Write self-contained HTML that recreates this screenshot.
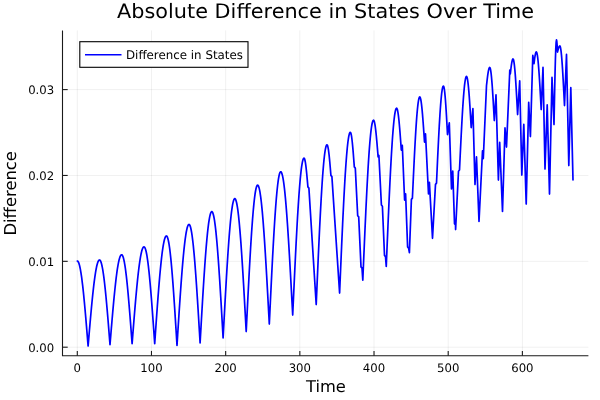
<!DOCTYPE html>
<html><head><meta charset="utf-8">
<style>
html,body{margin:0;padding:0;background:#fff;}
body{width:600px;height:400px;overflow:hidden;}
svg{display:block;will-change:transform;}
text{font-family:"DejaVu Sans","Liberation Sans",sans-serif;fill:#000;text-rendering:geometricPrecision;}
.grid{stroke:#000;stroke-opacity:0.1;stroke-width:0.6;}
.ax{stroke:#1a1a1a;stroke-width:1.1;}
.tl{font-size:11.7px;}
</style></head>
<body>
<svg width="600" height="400" viewBox="0 0 600 400">
<rect x="0" y="0" width="600" height="400" fill="#fff"/>
<line x1="77.30" y1="30.40" x2="77.30" y2="355.80" class="grid"/>
<line x1="151.48" y1="30.40" x2="151.48" y2="355.80" class="grid"/>
<line x1="225.66" y1="30.40" x2="225.66" y2="355.80" class="grid"/>
<line x1="299.84" y1="30.40" x2="299.84" y2="355.80" class="grid"/>
<line x1="374.02" y1="30.40" x2="374.02" y2="355.80" class="grid"/>
<line x1="448.20" y1="30.40" x2="448.20" y2="355.80" class="grid"/>
<line x1="522.38" y1="30.40" x2="522.38" y2="355.80" class="grid"/>
<line x1="62.50" y1="347.20" x2="588.40" y2="347.20" class="grid"/>
<line x1="62.50" y1="261.33" x2="588.40" y2="261.33" class="grid"/>
<line x1="62.50" y1="175.46" x2="588.40" y2="175.46" class="grid"/>
<line x1="62.50" y1="89.59" x2="588.40" y2="89.59" class="grid"/>
<path d="M62.50,30.40 V355.80 H588.40" fill="none" class="ax" stroke-linejoin="miter"/>
<line x1="77.30" y1="355.80" x2="77.30" y2="350.90" class="ax"/>
<line x1="151.48" y1="355.80" x2="151.48" y2="350.90" class="ax"/>
<line x1="225.66" y1="355.80" x2="225.66" y2="350.90" class="ax"/>
<line x1="299.84" y1="355.80" x2="299.84" y2="350.90" class="ax"/>
<line x1="374.02" y1="355.80" x2="374.02" y2="350.90" class="ax"/>
<line x1="448.20" y1="355.80" x2="448.20" y2="350.90" class="ax"/>
<line x1="522.38" y1="355.80" x2="522.38" y2="350.90" class="ax"/>
<line x1="62.50" y1="347.20" x2="67.70" y2="347.20" class="ax"/>
<line x1="62.50" y1="261.33" x2="67.70" y2="261.33" class="ax"/>
<line x1="62.50" y1="175.46" x2="67.70" y2="175.46" class="ax"/>
<line x1="62.50" y1="89.59" x2="67.70" y2="89.59" class="ax"/>
<text x="77.30" y="371.6" class="tl" text-anchor="middle">0</text>
<text x="151.48" y="371.6" class="tl" text-anchor="middle">100</text>
<text x="225.66" y="371.6" class="tl" text-anchor="middle">200</text>
<text x="299.84" y="371.6" class="tl" text-anchor="middle">300</text>
<text x="374.02" y="371.6" class="tl" text-anchor="middle">400</text>
<text x="448.20" y="371.6" class="tl" text-anchor="middle">500</text>
<text x="522.38" y="371.6" class="tl" text-anchor="middle">600</text>
<text x="54.2" y="351.50" class="tl" text-anchor="end">0.00</text>
<text x="54.2" y="265.63" class="tl" text-anchor="end">0.01</text>
<text x="54.2" y="179.76" class="tl" text-anchor="end">0.02</text>
<text x="54.2" y="93.89" class="tl" text-anchor="end">0.03</text>
<path d="M77.30,261.00 77.64,261.10 77.97,261.41 78.31,261.92 78.65,262.63 78.99,263.55 79.33,264.66 79.66,265.97 80.00,267.47 80.34,269.17 80.67,271.04 81.01,273.10 81.35,275.33 81.69,277.74 82.02,280.31 82.36,283.03 82.70,285.91 83.04,288.93 83.38,292.09 83.71,295.39 84.05,298.80 84.39,302.33 84.72,305.96 85.06,309.69 85.40,313.50 85.74,317.40 86.07,321.36 86.41,325.38 86.75,329.46 87.09,333.57 87.42,337.71 87.76,341.88 88.10,346.05 88.44,342.07 88.77,338.11 89.11,334.15 89.44,330.23 89.78,326.34 90.11,322.49 90.45,318.69 90.78,314.95 91.12,311.27 91.45,307.67 91.79,304.15 92.12,300.72 92.46,297.39 92.79,294.16 93.13,291.05 93.46,288.04 93.80,285.17 94.14,282.42 94.47,279.81 94.81,277.34 95.14,275.02 95.48,272.85 95.81,270.83 96.15,268.98 96.48,267.29 96.82,265.76 97.15,264.41 97.49,263.24 97.82,262.24 98.16,261.42 98.49,260.78 98.83,260.32 99.16,260.04 99.50,259.95 99.84,260.06 100.18,260.38 100.52,260.93 100.85,261.68 101.19,262.65 101.53,263.83 101.87,265.22 102.21,266.81 102.55,268.61 102.89,270.59 103.23,272.77 103.56,275.13 103.90,277.67 104.24,280.38 104.58,283.26 104.92,286.29 105.26,289.48 105.60,292.80 105.94,296.26 106.27,299.85 106.61,303.54 106.95,307.35 107.29,311.25 107.63,315.23 107.97,319.29 108.31,323.42 108.65,327.60 108.98,331.82 109.32,336.08 109.66,340.36 110.00,344.65 110.34,340.50 110.68,336.36 111.02,332.23 111.36,328.13 111.71,324.07 112.05,320.05 112.39,316.08 112.73,312.17 113.07,308.34 113.41,304.58 113.75,300.90 114.09,297.32 114.44,293.84 114.78,290.47 115.12,287.22 115.46,284.08 115.80,281.08 116.14,278.21 116.48,275.49 116.82,272.91 117.16,270.48 117.51,268.22 117.85,266.11 118.19,264.17 118.53,262.41 118.87,260.82 119.21,259.41 119.55,258.18 119.89,257.14 120.24,256.28 120.58,255.61 120.92,255.13 121.26,254.85 121.60,254.75 121.94,254.86 122.28,255.21 122.62,255.78 122.95,256.57 123.29,257.59 123.63,258.83 123.97,260.28 124.31,261.95 124.65,263.84 124.99,265.92 125.33,268.21 125.66,270.68 126.00,273.35 126.34,276.20 126.68,279.22 127.02,282.40 127.36,285.74 127.70,289.23 128.04,292.86 128.37,296.63 128.71,300.51 129.05,304.50 129.39,308.59 129.73,312.77 130.07,317.04 130.41,321.37 130.75,325.75 131.08,330.19 131.42,334.66 131.76,339.15 132.10,343.65 132.44,339.31 132.78,334.97 133.12,330.66 133.46,326.37 133.80,322.11 134.14,317.90 134.48,313.74 134.82,309.64 135.16,305.61 135.50,301.65 135.84,297.78 136.18,294.00 136.52,290.32 136.86,286.75 137.20,283.30 137.54,279.96 137.88,276.76 138.22,273.68 138.56,270.75 138.90,267.97 139.24,265.34 139.58,262.86 139.92,260.55 140.26,258.41 140.60,256.44 140.94,254.64 141.28,253.02 141.62,251.59 141.96,250.34 142.30,249.28 142.64,248.41 142.98,247.73 143.32,247.24 143.66,246.95 144.00,246.85 144.33,246.97 144.67,247.32 145.00,247.90 145.34,248.71 145.67,249.75 146.01,251.02 146.34,252.51 146.68,254.22 147.01,256.14 147.34,258.28 147.68,260.62 148.01,263.16 148.35,265.90 148.68,268.82 149.02,271.93 149.35,275.20 149.68,278.64 150.02,282.24 150.35,285.99 150.69,289.87 151.02,293.88 151.36,298.02 151.69,302.26 152.02,306.61 152.36,311.04 152.69,315.55 153.03,320.13 153.36,324.77 153.70,329.45 154.03,334.16 154.37,338.90 154.70,343.65 155.03,338.82 155.37,334.00 155.70,329.19 156.04,324.42 156.37,319.68 156.71,315.00 157.04,310.37 157.37,305.81 157.71,301.32 158.04,296.92 158.38,292.61 158.71,288.41 159.05,284.32 159.38,280.35 159.71,276.50 160.05,272.79 160.38,269.22 160.72,265.80 161.05,262.54 161.39,259.45 161.72,256.52 162.05,253.77 162.39,251.20 162.72,248.81 163.06,246.62 163.39,244.62 163.73,242.82 164.06,241.22 164.39,239.83 164.73,238.65 165.06,237.68 165.40,236.92 165.73,236.38 166.07,236.06 166.40,235.95 166.74,236.09 167.08,236.51 167.43,237.21 167.77,238.19 168.11,239.44 168.45,240.97 168.79,242.76 169.14,244.82 169.48,247.13 169.82,249.70 170.16,252.51 170.50,255.56 170.85,258.84 171.19,262.34 171.53,266.06 171.87,269.98 172.21,274.09 172.55,278.39 172.90,282.85 173.24,287.48 173.58,292.26 173.92,297.17 174.26,302.21 174.61,307.35 174.95,312.60 175.29,317.93 175.63,323.33 175.97,328.78 176.32,334.28 176.66,339.81 177.00,345.35 177.33,340.08 177.67,334.81 178.00,329.57 178.33,324.36 178.67,319.18 179.00,314.06 179.33,308.99 179.67,304.00 180.00,299.08 180.33,294.26 180.67,289.52 181.00,284.90 181.33,280.39 181.67,276.00 182.00,271.75 182.33,267.64 182.67,263.67 183.00,259.86 183.33,256.21 183.67,252.74 184.00,249.43 184.33,246.31 184.67,243.38 185.00,240.65 185.33,238.11 185.67,235.78 186.00,233.65 186.33,231.74 186.67,230.05 187.00,228.57 187.33,227.32 187.67,226.29 188.00,225.48 188.33,224.91 188.67,224.57 189.00,224.45 189.34,224.58 189.67,224.99 190.01,225.66 190.35,226.59 190.68,227.79 191.02,229.25 191.35,230.97 191.69,232.94 192.03,235.16 192.36,237.62 192.70,240.33 193.04,243.26 193.37,246.42 193.71,249.80 194.05,253.39 194.38,257.19 194.72,261.18 195.05,265.35 195.39,269.70 195.73,274.21 196.06,278.88 196.40,283.70 196.74,288.65 197.07,293.72 197.41,298.91 197.75,304.19 198.08,309.56 198.42,315.01 198.75,320.52 199.09,326.09 199.43,331.69 199.76,337.31 200.10,342.95 200.43,337.06 200.77,331.18 201.10,325.33 201.44,319.51 201.77,313.73 202.11,308.02 202.44,302.38 202.77,296.81 203.11,291.35 203.44,285.98 203.78,280.73 204.11,275.61 204.45,270.62 204.78,265.77 205.11,261.09 205.45,256.56 205.78,252.21 206.12,248.05 206.45,244.07 206.79,240.30 207.12,236.73 207.45,233.37 207.79,230.24 208.12,227.33 208.46,224.65 208.79,222.22 209.13,220.02 209.46,218.08 209.79,216.38 210.13,214.94 210.46,213.76 210.80,212.84 211.13,212.18 211.47,211.78 211.80,211.65 212.14,211.79 212.48,212.22 212.83,212.93 213.17,213.93 213.51,215.21 213.85,216.76 214.20,218.59 214.54,220.69 214.88,223.05 215.22,225.68 215.57,228.56 215.91,231.68 216.25,235.05 216.59,238.65 216.94,242.47 217.28,246.51 217.62,250.76 217.96,255.21 218.31,259.84 218.65,264.65 218.99,269.62 219.33,274.75 219.68,280.02 220.02,285.42 220.36,290.95 220.70,296.57 221.05,302.30 221.39,308.10 221.73,313.97 222.07,319.89 222.42,325.85 222.76,331.85 223.10,337.85 223.43,331.60 223.77,325.37 224.10,319.16 224.44,312.99 224.77,306.88 225.11,300.82 225.44,294.83 225.77,288.94 226.11,283.14 226.44,277.45 226.78,271.89 227.11,266.45 227.45,261.17 227.78,256.03 228.11,251.06 228.45,246.26 228.78,241.65 229.12,237.24 229.45,233.02 229.79,229.02 230.12,225.23 230.45,221.68 230.79,218.35 231.12,215.27 231.46,212.44 231.79,209.85 232.13,207.53 232.46,205.46 232.79,203.67 233.13,202.14 233.46,200.89 233.80,199.91 234.13,199.21 234.47,198.79 234.80,198.65 235.14,198.79 235.47,199.22 235.81,199.92 236.14,200.91 236.48,202.18 236.81,203.72 237.15,205.54 237.48,207.62 237.82,209.97 238.15,212.58 238.49,215.45 238.82,218.56 239.16,221.91 239.49,225.49 239.83,229.31 240.16,233.34 240.50,237.58 240.84,242.02 241.17,246.65 241.51,251.46 241.84,256.44 242.18,261.59 242.51,266.88 242.85,272.31 243.18,277.87 243.52,283.54 243.85,289.32 244.19,295.18 244.52,301.12 244.86,307.13 245.19,313.19 245.53,319.29 245.86,325.41 246.20,331.55 246.54,324.79 246.87,318.04 247.21,311.32 247.54,304.65 247.88,298.03 248.21,291.49 248.55,285.03 248.88,278.66 249.22,272.42 249.55,266.29 249.89,260.31 250.22,254.48 250.56,248.81 250.89,243.32 251.23,238.02 251.56,232.92 251.90,228.03 252.24,223.36 252.57,218.92 252.91,214.72 253.24,210.77 253.58,207.08 253.91,203.65 254.25,200.50 254.58,197.62 254.92,195.04 255.25,192.74 255.59,190.74 255.92,189.04 256.26,187.64 256.59,186.55 256.93,185.77 257.26,185.31 257.60,185.15 257.93,185.29 258.27,185.71 258.60,186.41 258.94,187.38 259.27,188.63 259.61,190.16 259.94,191.95 260.27,194.01 260.61,196.33 260.94,198.91 261.28,201.74 261.61,204.81 261.95,208.13 262.28,211.68 262.61,215.45 262.95,219.45 263.28,223.65 263.62,228.06 263.95,232.66 264.29,237.45 264.62,242.41 264.95,247.53 265.29,252.81 265.62,258.23 265.96,263.78 266.29,269.46 266.63,275.24 266.96,281.13 267.29,287.10 267.63,293.14 267.96,299.25 268.30,305.40 268.63,311.60 268.97,317.82 269.30,324.05 269.64,317.02 269.97,310.00 270.31,303.01 270.64,296.06 270.98,289.18 271.31,282.37 271.65,275.65 271.98,269.03 272.32,262.53 272.65,256.16 272.99,249.94 273.32,243.87 273.66,237.98 273.99,232.27 274.33,226.75 274.66,221.45 275.00,216.36 275.34,211.50 275.67,206.88 276.01,202.51 276.34,198.40 276.68,194.56 277.01,191.00 277.35,187.72 277.68,184.73 278.02,182.03 278.35,179.65 278.69,177.56 279.02,175.80 279.36,174.34 279.69,173.21 280.03,172.40 280.36,171.91 280.70,171.75 281.03,171.89 281.37,172.30 281.70,172.98 282.03,173.93 282.37,175.15 282.70,176.63 283.03,178.38 283.37,180.39 283.70,182.66 284.03,185.18 284.37,187.94 284.70,190.95 285.03,194.19 285.37,197.67 285.70,201.36 286.03,205.28 286.37,209.40 286.70,213.72 287.03,218.24 287.37,222.94 287.70,227.81 288.03,232.86 288.37,238.05 288.70,243.40 289.03,248.88 289.37,254.49 289.70,260.21 290.03,266.04 290.37,271.96 290.70,277.96 291.03,284.03 291.37,290.17 291.70,296.35 292.03,302.56 292.37,308.80 292.70,315.05 293.04,307.58 293.38,300.14 293.73,292.72 294.07,285.36 294.41,278.06 294.75,270.85 295.10,263.73 295.44,256.74 295.78,249.87 296.12,243.15 296.47,236.60 296.81,230.22 297.15,224.04 297.49,218.06 297.84,212.30 298.18,206.78 298.52,201.50 298.86,196.47 299.21,191.72 299.55,187.24 299.89,183.06 300.23,179.17 300.58,175.59 300.92,172.33 301.26,169.39 301.60,166.78 301.95,164.51 302.29,162.57 302.63,160.99 302.97,159.75 303.32,158.86 303.66,158.33 304.00,158.15 304.35,158.44 304.71,159.31 305.06,160.75 305.42,162.71 305.77,165.17 306.13,168.07 306.48,171.36 306.84,174.96 307.19,178.80 307.55,182.81 307.90,186.90 308.90,188.10 316.20,304.55 316.54,296.71 316.88,288.90 317.21,281.12 317.55,273.39 317.89,265.75 318.22,258.19 318.56,250.75 318.90,243.44 319.24,236.27 319.57,229.27 319.91,222.45 320.25,215.83 320.59,209.42 320.93,203.24 321.26,197.30 321.60,191.63 321.94,186.22 322.27,181.10 322.61,176.28 322.95,171.76 323.29,167.57 323.62,163.71 323.96,160.18 324.30,157.01 324.64,154.19 324.98,151.73 325.31,149.64 325.65,147.92 325.99,146.58 326.32,145.62 326.66,145.04 327.00,144.85 327.35,145.16 327.71,146.09 328.06,147.61 328.42,149.70 328.77,152.31 329.13,155.39 329.48,158.88 329.84,162.71 330.19,166.79 330.55,171.05 330.90,175.40 331.90,176.60 339.60,293.05 339.93,285.16 340.27,277.30 340.60,269.47 340.94,261.70 341.27,254.00 341.61,246.40 341.94,238.91 342.28,231.55 342.61,224.34 342.94,217.30 343.28,210.43 343.61,203.77 343.95,197.32 344.28,191.10 344.62,185.13 344.95,179.42 345.28,173.98 345.62,168.83 345.95,163.97 346.29,159.43 346.62,155.21 346.96,151.33 347.29,147.78 347.62,144.58 347.96,141.74 348.29,139.27 348.63,137.17 348.96,135.44 349.30,134.09 349.63,133.12 349.97,132.54 350.30,132.35 350.63,132.65 350.97,133.53 351.30,134.98 351.63,136.98 351.97,139.49 352.30,142.47 352.63,145.87 352.97,149.62 353.30,153.68 353.63,157.96 353.97,162.39 354.30,166.90 355.30,168.10 357.70,215.70 358.70,216.90 361.00,266.90 362.00,268.10 362.80,280.15 363.13,272.30 363.47,264.47 363.80,256.68 364.14,248.95 364.47,241.29 364.81,233.72 365.14,226.26 365.48,218.94 365.81,211.76 366.14,204.75 366.48,197.92 366.81,191.29 367.15,184.87 367.48,178.68 367.82,172.73 368.15,167.05 368.48,161.63 368.82,156.51 369.15,151.68 369.49,147.16 369.82,142.96 370.16,139.09 370.49,135.56 370.82,132.38 371.16,129.55 371.49,127.09 371.83,124.99 372.16,123.27 372.50,121.93 372.83,120.97 373.17,120.39 373.50,120.20 373.85,120.47 374.21,121.26 374.56,122.58 374.92,124.40 375.27,126.69 375.62,129.42 375.98,132.55 376.33,136.03 376.68,139.82 377.04,143.85 377.39,148.08 377.75,152.43 378.10,156.85 378.90,155.45 381.40,205.00 382.40,206.20 384.50,255.40 385.50,256.60 386.25,266.45 386.58,258.43 386.92,250.44 387.25,242.49 387.59,234.59 387.92,226.78 388.25,219.08 388.59,211.49 388.92,204.04 389.25,196.76 389.59,189.65 389.92,182.74 390.26,176.05 390.59,169.58 390.92,163.37 391.26,157.42 391.59,151.75 391.93,146.38 392.26,141.31 392.59,136.56 392.93,132.15 393.26,128.08 393.60,124.37 393.93,121.02 394.26,118.05 394.60,115.46 394.93,113.25 395.26,111.44 395.60,110.02 395.93,109.01 396.27,108.40 396.60,108.20 396.94,108.46 397.27,109.25 397.61,110.55 397.94,112.34 398.28,114.61 398.61,117.33 398.95,120.46 399.29,123.96 399.62,127.78 399.96,131.89 400.29,136.23 400.63,140.74 400.96,145.36 401.30,150.05 402.30,145.45 404.60,200.05 405.60,193.95 407.60,246.90 408.60,248.10 409.40,252.65 411.40,199.35 412.40,198.15 412.73,190.93 413.07,183.75 413.40,176.64 413.74,169.64 414.07,162.78 414.40,156.11 414.74,149.65 415.07,143.44 415.41,137.50 415.74,131.88 416.07,126.59 416.41,121.67 416.74,117.14 417.08,113.02 417.41,109.33 417.75,106.10 418.08,103.33 418.41,101.05 418.75,99.26 419.08,97.98 419.42,97.21 419.75,96.95 420.09,97.23 420.43,98.08 420.77,99.48 421.11,101.42 421.45,103.86 421.79,106.79 422.12,110.16 422.46,113.93 422.80,118.06 423.14,122.48 423.48,127.15 423.82,132.01 424.16,137.00 424.50,142.05 425.50,133.95 428.50,193.95 429.40,182.35 432.50,238.30 435.50,184.35 436.50,183.15 436.85,175.53 437.19,167.96 437.53,160.48 437.88,153.14 438.23,145.99 438.57,139.07 438.91,132.42 439.26,126.08 439.61,120.09 439.95,114.49 440.30,109.31 440.64,104.59 440.99,100.36 441.33,96.63 441.67,93.44 442.02,90.80 442.37,88.73 442.71,87.25 443.05,86.35 443.40,86.05 443.74,86.46 444.08,87.70 444.42,89.74 444.77,92.55 445.11,96.07 445.45,100.26 445.79,105.03 446.13,110.30 446.48,115.99 446.82,122.00 447.16,128.22 447.50,134.55 449.30,122.95 451.50,188.95 452.75,171.05 454.50,223.80 455.50,225.00 455.60,229.55 458.50,171.20 459.50,170.00 459.83,163.01 460.17,156.06 460.50,149.18 460.83,142.43 461.17,135.82 461.50,129.41 461.83,123.23 462.17,117.30 462.50,111.67 462.83,106.37 463.17,101.42 463.50,96.86 463.83,92.71 464.17,88.98 464.50,85.71 464.83,82.92 465.17,80.61 465.50,78.80 465.83,77.49 466.17,76.71 466.50,76.45 466.84,76.77 467.17,77.73 467.51,79.32 467.84,81.51 468.18,84.28 468.51,87.60 468.85,91.42 469.19,95.69 469.52,100.36 469.86,105.38 470.19,110.67 470.53,116.18 470.86,121.83 471.20,127.55 472.90,108.55 475.00,184.55 476.50,156.95 479.00,221.45 482.50,150.95 483.30,158.55 486.50,85.50 486.86,82.37 487.21,79.33 487.57,76.48 487.92,73.90 488.28,71.67 488.63,69.87 488.99,68.54 489.34,67.72 489.70,67.45 490.05,67.84 490.41,68.99 490.76,70.90 491.12,73.53 491.47,76.85 491.82,80.80 492.18,85.34 492.53,90.39 492.88,95.87 493.24,101.72 493.59,107.84 493.95,114.15 494.30,120.55 496.00,94.75 498.40,180.05 499.70,142.45 502.50,211.45 505.00,127.95 506.50,147.05 509.80,70.00 510.30,74.00 510.64,71.06 510.98,68.24 511.31,65.64 511.65,63.36 511.99,61.49 512.33,60.10 512.66,59.24 513.00,58.95 513.35,59.36 513.71,60.57 514.06,62.56 514.42,65.32 514.77,68.79 515.12,72.93 515.48,77.68 515.83,82.97 516.18,88.71 516.54,94.83 516.89,101.24 517.25,107.85 517.60,114.55 519.70,80.95 521.80,175.05 523.80,124.45 526.20,204.05 528.70,102.45 530.40,136.55 532.80,55.45 534.00,63.55 534.38,60.55 534.77,57.75 535.15,55.35 535.53,53.50 535.92,52.35 536.30,51.95 536.65,52.31 537.00,53.39 537.35,55.18 537.70,57.65 538.05,60.78 538.40,64.52 538.75,68.82 539.10,73.64 539.45,78.90 539.80,84.56 540.15,90.53 540.50,96.73 540.85,103.10 541.20,109.55 543.00,67.45 545.00,169.05 547.20,104.95 549.50,194.05 552.00,77.45 554.00,124.55 554.36,105.72 554.71,87.84 555.07,71.80 555.43,58.41 555.79,48.33 556.14,42.07 556.50,39.95 556.75,40.87 557.00,43.49 557.25,47.42 557.50,52.05 557.88,50.47 558.27,49.00 558.65,47.74 559.03,46.77 559.42,46.16 559.80,45.95 560.14,46.32 560.47,47.44 560.81,49.29 561.14,51.85 561.48,55.09 561.81,58.95 562.15,63.41 562.49,68.39 562.82,73.84 563.16,79.69 563.49,85.87 563.83,92.29 564.16,98.88 564.50,105.55 566.50,54.45 568.80,165.55 570.80,87.65 573.00,180.00" fill="none" stroke="#0000ff" stroke-width="1.7" stroke-linejoin="round" stroke-linecap="round"/>
<text transform="translate(325.6,17.6) scale(1.046,1)" font-size="19.9px" text-anchor="middle">Absolute Difference in States Over Time</text>
<text x="325.9" y="391.9" font-size="16.3px" text-anchor="middle">Time</text>
<text transform="translate(16.1,193.3) rotate(-90)" font-size="16.4px" text-anchor="middle">Difference</text>
<rect x="79.8" y="41.7" width="168.2" height="25.6" fill="#fff" stroke="#000" stroke-width="1.1"/>
<line x1="85" y1="54.7" x2="121.5" y2="54.7" stroke="#0000ff" stroke-width="1.4"/>
<text x="126" y="58.9" font-size="11.85px">Difference in States</text>
</svg>
</body></html>
